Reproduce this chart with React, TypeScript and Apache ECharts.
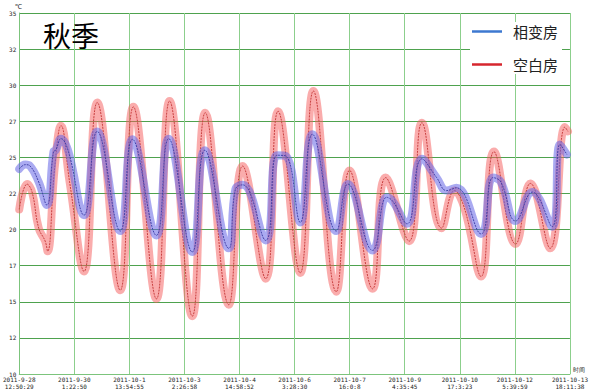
import React, { useEffect, useRef } from "react";
import * as echarts from "echarts";

// x values are hours since 2011-9-28 12:50:29
const HOURS_PER_TICK = 36.533;
const xTickLabels = [
  "2011-9-28\n12:50:29",
  "2011-9-30\n1:22:50",
  "2011-10-1\n13:54:55",
  "2011-10-3\n2:26:58",
  "2011-10-4\n14:58:52",
  "2011-10-6\n3:28:30",
  "2011-10-7\n16:0:8",
  "2011-10-9\n4:35:45",
  "2011-10-10\n17:3:23",
  "2011-10-12\n5:39:59",
  "2011-10-13\n18:11:38",
];
const yTickLabels = ["10", "12", "15", "17", "20", "22", "25", "27", "30", "32", "35"];

const redHours = [0, 5.2, 8.5, 12.9, 17.2, 18.8, 23.6, 27.7, 33.4, 43.0, 51.7, 67.0, 75.7, 91.0, 99.7, 114.8, 123.4, 139.0, 148.2, 163.5, 171.7, 186.4, 195.1, 210.3, 219.1, 234.4, 243.1, 258.6, 267.1, 280.2, 288.7, 295.3, 306.4, 314.9, 329.3, 339.1, 352.2, 362.0, 364.0];
const redTemps = [21.4, 23.15, 22.6, 20.1, 19.2, 18.5, 24.4, 27.2, 23.3, 17.1, 28.8, 15.8, 28.5, 15.2, 28.9, 14.0, 28.1, 14.8, 24.4, 16.6, 28.2, 17.0, 29.6, 15.7, 24.1, 15.9, 23.6, 19.2, 27.4, 20.1, 22.7, 21.5, 16.75, 25.4, 19.0, 23.2, 18.7, 27.1, 26.8];

const blueHours = [0, 4.1, 7.2, 12.9, 18.3, 22.7, 24.2, 27.7, 32.5, 43.0, 51.7, 67.0, 75.1, 91.0, 99.1, 114.8, 123.1, 139.0, 143.4, 148.2, 163.5, 170.9, 176.8, 186.4, 194.4, 210.3, 218.0, 234.4, 243.7, 247.5, 257.3, 267.1, 276.9, 283.5, 290.0, 306.4, 314.2, 319.5, 329.3, 340.4, 353.5, 358.7, 363.3];
const blueTemps = [24.2, 24.5, 24.4, 23.3, 21.7, 25.4, 25.5, 26.3, 25.45, 21.0, 26.8, 19.9, 26.25, 19.6, 26.3, 18.45, 25.5, 18.7, 22.8, 23.1, 19.25, 25.15, 25.1, 20.5, 26.6, 19.9, 23.15, 18.56, 22.24, 22.0, 20.4, 24.9, 23.6, 22.7, 22.9, 19.7, 23.6, 23.3, 20.6, 22.6, 20.2, 25.9, 25.2];

const zip = (xs: number[], ys: number[]) => xs.map((x, i) => [x, ys[i]]);

export default function App() {
  const ref = useRef<HTMLDivElement>(null);
  useEffect(() => {
    const chart = echarts.init(ref.current!, null, { renderer: "svg" });
    const redData = zip(redHours, redTemps);
    const blueData = zip(blueHours, blueTemps);
    const smallFont = { fontSize: 6, color: "#222", fontFamily: "DejaVu Sans Mono" };
    chart.setOption({
      animation: false,
      backgroundColor: "#fff",
      title: {
        text: "秋季",
        left: 38,
        top: 16,
        textStyle: { fontSize: 28, fontWeight: "normal", color: "#000", fontFamily: "Noto Sans CJK SC" },
      },
      legend: {
        orient: "vertical",
        left: 470,
        top: 22,
        itemGap: 18,
        itemWidth: 30,
        itemHeight: 2.5,
        backgroundColor: "#fff",
        padding: [2, 4, 2, 2],
        textStyle: { fontSize: 15, color: "#222", fontFamily: "Noto Sans CJK SC", padding: [0, 0, 0, 6] },
        data: [
          { name: "相变房", icon: "rect", itemStyle: { color: "#3d78d0" } },
          { name: "空白房", icon: "rect", itemStyle: { color: "#d6262e" } },
        ],
      },
      grid: { left: 17, right: 16, top: 13, bottom: 14 },
      xAxis: {
        type: "value",
        min: 0,
        max: HOURS_PER_TICK * 10,
        interval: HOURS_PER_TICK,
        name: "时间",
        nameLocation: "end",
        nameGap: 3,
        nameTextStyle: { ...smallFont, verticalAlign: "bottom", padding: [0, 0, 2, 0] },
        axisLine: { lineStyle: { color: "#7cc47c" } },
        axisTick: { show: false },
        axisLabel: {
          ...smallFont,
          margin: 2,
          lineHeight: 7,
          showMinLabel: true,
          showMaxLabel: true,
          formatter: (v: number) => xTickLabels[Math.round(v / HOURS_PER_TICK)] ?? "",
        },
        splitLine: { show: true, lineStyle: { color: "#8ccf8c", width: 1 } },
      },
      yAxis: {
        type: "value",
        min: 10,
        max: 35,
        interval: 2.5,
        name: "℃",
        nameLocation: "end",
        nameGap: 1,
        nameTextStyle: { ...smallFont, fontSize: 7, align: "left", padding: [0, 0, 0, -4] },
        axisLine: { show: true, lineStyle: { color: "#7cc47c" } },
        axisTick: { show: false },
        axisLabel: {
          ...smallFont,
          margin: 3,
          formatter: (v: number) => yTickLabels[Math.round((v - 10) / 2.5)] ?? "",
        },
        splitLine: { show: true, lineStyle: { color: "#4ea24e", width: 1 } },
      },
      series: [
        {
          name: "空白房",
          type: "line",
          data: redData,
          smooth: 0.45,
          showSymbol: false,
          itemStyle: { color: "#d6262e" },
          lineStyle: { width: 8, color: "rgba(245,90,90,0.5)", cap: "round", join: "round" },
          z: 2,
        },
        {
          name: "空白房线",
          type: "line",
          data: redData,
          smooth: 0.45,
          showSymbol: false,
          lineStyle: { width: 1, color: "#c84040", type: [2, 1] },
          z: 3,
        },
        {
          name: "相变房",
          type: "line",
          data: blueData,
          smooth: 0.45,
          showSymbol: false,
          itemStyle: { color: "#3d78d0" },
          lineStyle: { width: 8, color: "rgba(100,100,230,0.55)", cap: "round", join: "round" },
          z: 4,
        },
        {
          name: "相变房线",
          type: "line",
          data: blueData,
          smooth: 0.45,
          showSymbol: false,
          lineStyle: { width: 1, color: "#4242a8", type: [2, 1] },
          z: 5,
        },
      ],
    });
    return () => chart.dispose();
  }, []);
  return <div ref={ref} style={{ width: 591, height: 390, position: "absolute", left: 0, top: 0 }} />;
}
